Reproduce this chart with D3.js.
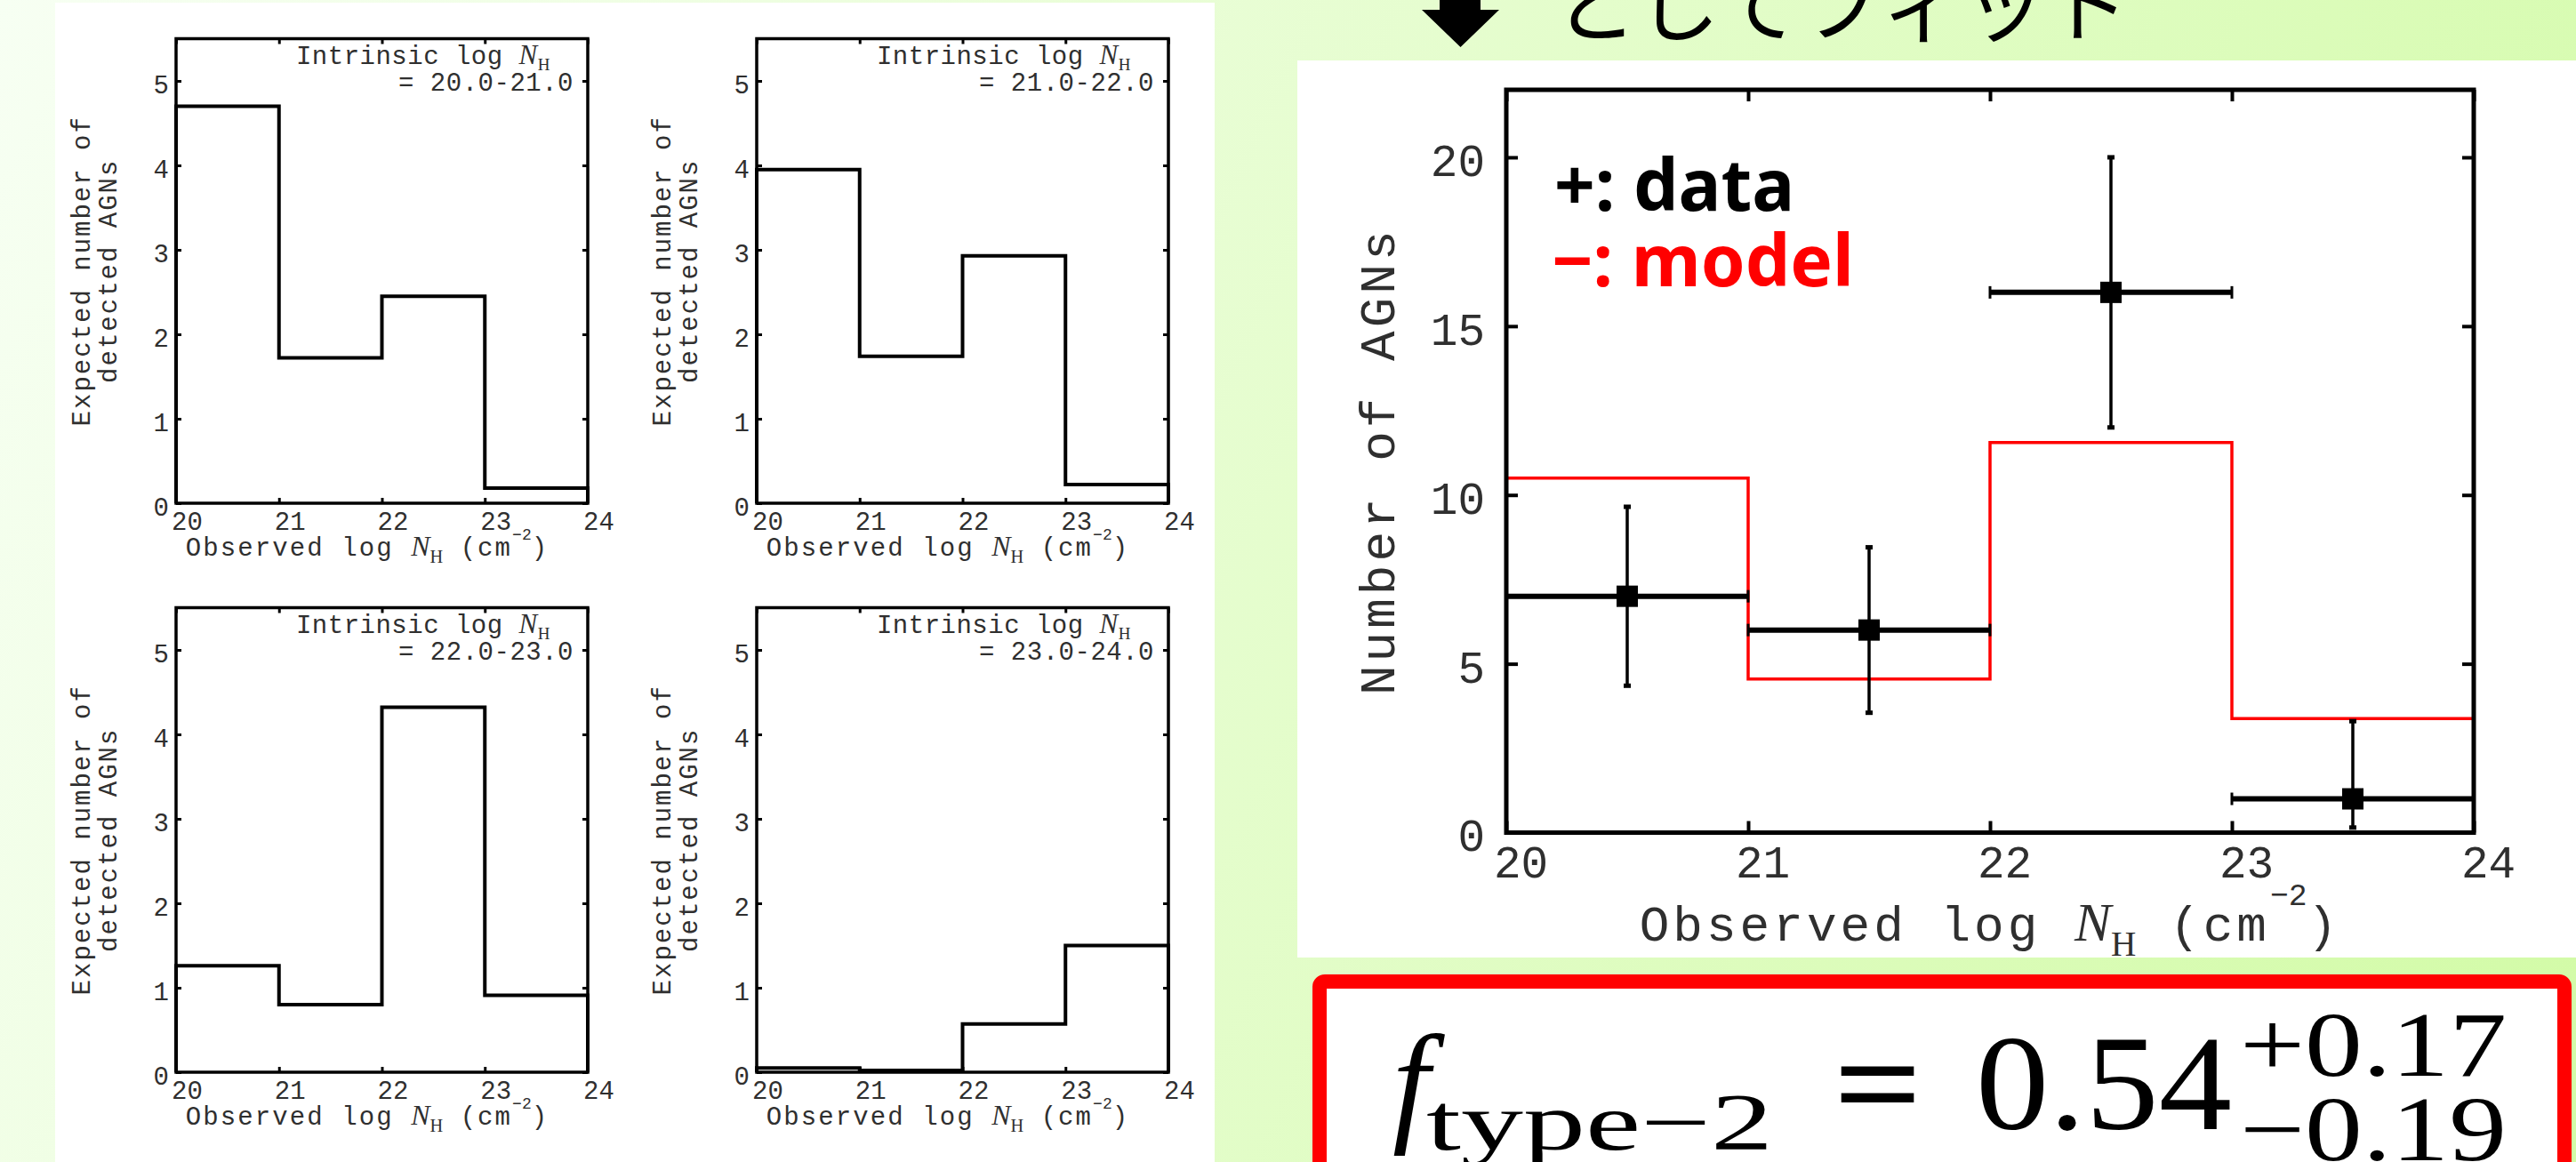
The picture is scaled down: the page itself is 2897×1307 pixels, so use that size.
<!DOCTYPE html>
<html>
<head>
<meta charset="utf-8">
<script src="https://cdn.jsdelivr.net/npm/d3@7"></script>
<style>
  html, body { margin: 0; padding: 0; overflow: hidden; background: #fff; }
  svg { display: block; }
  .mono { font-family: "Liberation Mono", "DejaVu Sans Mono", monospace; fill: #2f2f2f; }
  .serif { font-family: "Liberation Serif", "DejaVu Serif", serif; }
</style>
</head>
<body>
<svg id="chart" width="2897" height="1307"></svg>
<script>
// ---- data ----
const binEdges = [20, 21, 22, 23, 24];
const xTickValues = [20, 21, 22, 23, 24];
const panelYTickValues = [0, 1, 2, 3, 4, 5];
const panelRanges = ["20.0-21.0", "21.0-22.0", "22.0-23.0", "23.0-24.0"];
// expected number of detected AGNs per observed NH bin, one row per intrinsic NH range
const panelCounts = [
  [4.70, 1.72, 2.45, 0.18],
  [3.95, 1.74, 2.93, 0.22],
  [1.26, 0.80, 4.32, 0.91],
  [0.05, 0.02, 0.57, 1.50]
];
const fitCenters = [20.5, 21.5, 22.5, 23.5];
const fitCounts = [7, 6, 16, 1];
const fitLow = [4.35, 3.55, 12.0, 0.15];
const fitHigh = [9.65, 8.45, 20.0, 3.3];
const modelCounts = [10.5, 4.55, 11.55, 3.38];
const mainYTickValues = [0, 5, 10, 15, 20];
const fitValue = "0.54";
const fitPlus = "+0.17";
const fitMinus = "\u22120.19";

const W = 2897, H = 1307;
const svg = d3.select('#chart');

// background
const defs = svg.append('defs');
const grad = defs.append('linearGradient')
  .attr('id', 'bg').attr('gradientUnits', 'userSpaceOnUse')
  .attr('x1', 0).attr('y1', 0).attr('x2', W).attr('y2', H);
grad.append('stop').attr('offset', 0).attr('stop-color', '#f7fff3');
grad.append('stop').attr('offset', 1).attr('stop-color', '#d2fba6');
svg.append('rect').attr('width', W).attr('height', H).attr('fill', 'url(#bg)');

svg.append('rect').attr('x', 62).attr('y', 3).attr('width', 1304).attr('height', H)
  .attr('fill', '#fff');
svg.append('rect').attr('x', 1459).attr('y', 68).attr('width', W - 1459).attr('height', 1009)
  .attr('fill', '#fff');

// header (cut off at the top)
svg.append('path')
  .attr('d', 'M1619,0 H1665 V11 H1686 L1642.5,53 L1599,11 H1619 Z')
  .attr('fill', '#000');
svg.append('text')
  .attr('x', 1748).attr('y', 40)
  .attr('font-family', '"Noto Sans CJK JP", "Noto Sans CJK SC", sans-serif')
  .attr('font-size', 93)
  .attr('fill', '#000')
  .text('としてフィット');

// axes with inward ticks on all four sides
function drawFrame(g, x, y, yTicks, o) {
  const x0 = x.range()[0], x1 = x.range()[1];
  const y0 = y.range()[0], y1 = y.range()[1];

  const bottom = g.append('g').attr('transform', `translate(0,${y0})`)
    .call(d3.axisBottom(x).tickValues(xTickValues).tickSize(-o.tick)
      .tickPadding(o.xPad).tickFormat(d3.format('d')));
  const top = g.append('g').attr('transform', `translate(0,${y1})`)
    .call(d3.axisTop(x).tickValues(xTickValues).tickSize(-o.tick).tickFormat(''));
  const left = g.append('g').attr('transform', `translate(${x0},0)`)
    .call(d3.axisLeft(y).tickValues(yTicks).tickSize(-o.tick)
      .tickPadding(o.yPad).tickFormat(d3.format('d')));
  const right = g.append('g').attr('transform', `translate(${x1},0)`)
    .call(d3.axisRight(y).tickValues(yTicks).tickSize(-o.tick).tickFormat(''));

  [bottom, top, left, right].forEach(a => {
    a.select('.domain').remove();
    a.selectAll('.tick line').attr('stroke', '#000').attr('stroke-width', o.tickWidth);
    a.selectAll('text').attr('class', 'mono').attr('font-size', o.font)
      .attr('font-family', null).attr('fill', '#2f2f2f');
  });
  bottom.selectAll('text').attr('dx', o.xShift);
  left.selectAll('text').attr('dy', o.yDy);

  g.append('rect')
    .attr('x', x0).attr('y', y1).attr('width', x1 - x0).attr('height', y0 - y1)
    .attr('fill', 'none').attr('stroke', '#000').attr('stroke-width', o.frame);
}

// x label "Observed log N_H (cm^-2)"
function obsLabel(g, cx, by, s, rise) {
  const t = g.append('text').attr('x', cx).attr('y', by)
    .attr('text-anchor', 'middle').attr('class', 'mono')
    .attr('font-size', s).attr('letter-spacing', s * 0.072);
  t.append('tspan').text('Observed log ');
  t.append('tspan').attr('class', 'serif').attr('font-style', 'italic')
    .attr('font-size', s * 1.1).attr('letter-spacing', 0).text('N');
  t.append('tspan').attr('class', 'serif').attr('font-size', s * 0.7)
    .attr('letter-spacing', 0).attr('dy', s * 0.3).text('H');
  t.append('tspan').attr('dy', -s * 0.3).text(' (cm');
  t.append('tspan').attr('font-size', s * 0.62).attr('letter-spacing', 0)
    .attr('dy', -s * rise).text('\u22122');
  t.append('tspan').attr('dy', s * rise).text(')');
}

// ---- four small panels ----
const panelW = 463, panelH = 522.5;
const panelOrigins = [[198, 43.5], [851, 43.5], [198, 683.5], [851, 683.5]];

panelCounts.forEach((counts, i) => {
  const [px, py] = panelOrigins[i];
  const x = d3.scaleLinear().domain([20, 24]).range([px, px + panelW]);
  const y = d3.scaleLinear().domain([0, 5.5]).range([py + panelH, py]);
  const g = svg.append('g');

  const pts = [[binEdges[0], 0]]
    .concat(counts.map((c, j) => [binEdges[j], c]))
    .concat([[binEdges[4], counts[3]], [binEdges[4], 0]]);
  const step = d3.line().x(d => x(d[0])).y(d => y(d[1])).curve(d3.curveStepAfter);
  g.append('path').attr('d', step(pts))
    .attr('fill', 'none').attr('stroke', '#000').attr('stroke-width', 4);

  drawFrame(g, x, y, panelYTickValues, {
    tick: 6, xPad: 9, yPad: 8, xShift: 12, yDy: '0.45em', font: 29,
    tickWidth: 3, frame: 3.5
  });

  // y label, two lines
  const cy = (y.range()[0] + y.range()[1]) / 2;
  [['Expected number of', px - 97], ['detected AGNs', px - 67]].forEach(([s, bx]) => {
    g.append('text').attr('class', 'mono')
      .attr('transform', `translate(${bx},${cy}) rotate(-90)`)
      .attr('text-anchor', 'middle').attr('font-size', 29)
      .attr('letter-spacing', 2).text(s);
  });

  obsLabel(g, px + 215, py + 581, 29, 0.62);

  // title
  const t1 = g.append('text').attr('class', 'mono')
    .attr('x', px + 421).attr('y', py + 28).attr('text-anchor', 'end')
    .attr('font-size', 29).attr('letter-spacing', 0.5);
  t1.append('tspan').text('Intrinsic log ');
  t1.append('tspan').attr('class', 'serif').attr('font-style', 'italic')
    .attr('font-size', 31).text('N');
  t1.append('tspan').attr('class', 'serif').attr('font-size', 19).attr('dy', 7).text('H');
  g.append('text').attr('class', 'mono')
    .attr('x', px + 447).attr('y', py + 58).attr('text-anchor', 'end')
    .attr('font-size', 29).attr('letter-spacing', 0.5)
    .text('= ' + panelRanges[i]);
});

// ---- fitted chart ----
const mx = d3.scaleLinear().domain([20, 24]).range([1694, 2782]);
const my = d3.scaleLinear().domain([0, 22]).range([936.5, 101]);
const mg = svg.append('g');

const modelPts = [[binEdges[0], 0]]
  .concat(modelCounts.map((c, j) => [binEdges[j], c]))
  .concat([[binEdges[4], modelCounts[3]], [binEdges[4], 0]]);
mg.append('path')
  .attr('d', d3.line().x(d => mx(d[0])).y(d => my(d[1])).curve(d3.curveStepAfter)(modelPts))
  .attr('fill', 'none').attr('stroke', '#ff0000').attr('stroke-width', 3.5);

drawFrame(mg, mx, my, mainYTickValues, {
  tick: 13, xPad: 14, yPad: 24, xShift: 16, yDy: '0.4em', font: 51,
  tickWidth: 4, frame: 5
});

const pts = fitCenters.map((c, i) => ({ c, v: fitCounts[i], lo: fitLow[i], hi: fitHigh[i] }));
const eg = mg.append('g').attr('stroke', '#000');
// horizontal bars (bin width) with caps
eg.selectAll('.hbar').data(pts).join('line').attr('class', 'hbar')
  .attr('x1', d => mx(d.c - 0.5)).attr('x2', d => mx(d.c + 0.5))
  .attr('y1', d => my(d.v)).attr('y2', d => my(d.v)).attr('stroke-width', 6);
eg.selectAll('.hcap').data(pts.flatMap(d => [[d.c - 0.5, d.v], [d.c + 0.5, d.v]]))
  .join('line').attr('class', 'hcap')
  .attr('x1', d => mx(d[0])).attr('x2', d => mx(d[0]))
  .attr('y1', d => my(d[1]) - 7).attr('y2', d => my(d[1]) + 7).attr('stroke-width', 3);
// vertical error bars with caps
eg.selectAll('.vbar').data(pts).join('line').attr('class', 'vbar')
  .attr('x1', d => mx(d.c)).attr('x2', d => mx(d.c))
  .attr('y1', d => my(d.lo)).attr('y2', d => my(d.hi)).attr('stroke-width', 3.5);
eg.selectAll('.vcap').data(pts.flatMap(d => [[d.c, d.lo], [d.c, d.hi]]))
  .join('line').attr('class', 'vcap')
  .attr('x1', d => mx(d[0]) - 4).attr('x2', d => mx(d[0]) + 4)
  .attr('y1', d => my(d[1])).attr('y2', d => my(d[1])).attr('stroke-width', 5);
// square markers
mg.selectAll('.mk').data(pts).join('rect').attr('class', 'mk')
  .attr('x', d => mx(d.c) - 12).attr('y', d => my(d.v) - 12)
  .attr('width', 24).attr('height', 24).attr('fill', '#000');

// axis titles
mg.append('text').attr('class', 'mono')
  .attr('transform', `translate(1568,${(my.range()[0] + my.range()[1]) / 2}) rotate(-90)`)
  .attr('text-anchor', 'middle').attr('font-size', 56).attr('letter-spacing', 4)
  .text('Number of AGNs');
obsLabel(mg, (mx.range()[0] + mx.range()[1]) / 2, 1058, 56, 0.72);

// legend
const legendFont = '"Noto Sans", "Open Sans", sans-serif';
mg.append('text').attr('x', 1748).attr('y', 237)
  .attr('font-family', legendFont).attr('font-weight', 'bold').attr('font-size', 80)
  .attr('fill', '#000').text('+: data');
mg.append('text').attr('x', 1745).attr('y', 322)
  .attr('font-family', legendFont).attr('font-weight', 'bold').attr('font-size', 80)
  .attr('fill', '#ff0000').text('\u2212: model');

// ---- result box ----
svg.append('rect')
  .attr('x', 1484).attr('y', 1104).attr('width', 1400).attr('height', 260)
  .attr('rx', 6).attr('fill', '#fff').attr('stroke', '#ff0000').attr('stroke-width', 16);

const fg = svg.append('g').attr('class', 'serif').attr('fill', '#000');
fg.append('text').attr('x', 1566).attr('y', 1268).attr('font-style', 'italic')
  .attr('font-size', 150).text('f');
fg.append('text').attr('x', 1604).attr('y', 1293).attr('font-size', 91)
  .attr('textLength', 390).attr('lengthAdjust', 'spacingAndGlyphs').text('type\u22122');
fg.append('text').attr('x', 2062).attr('y', 1270).attr('font-size', 150)
  .attr('font-weight', 'bold')
  .attr('textLength', 100).attr('lengthAdjust', 'spacingAndGlyphs').text('=');
fg.append('text').attr('x', 2222).attr('y', 1270).attr('font-size', 153)
  .attr('textLength', 288).attr('lengthAdjust', 'spacingAndGlyphs').text(fitValue);
fg.append('text').attr('x', 2519).attr('y', 1210).attr('font-size', 103)
  .attr('textLength', 300).attr('lengthAdjust', 'spacingAndGlyphs').text(fitPlus);
fg.append('text').attr('x', 2519).attr('y', 1305).attr('font-size', 103)
  .attr('textLength', 300).attr('lengthAdjust', 'spacingAndGlyphs').text(fitMinus);
</script>
</body>
</html>
